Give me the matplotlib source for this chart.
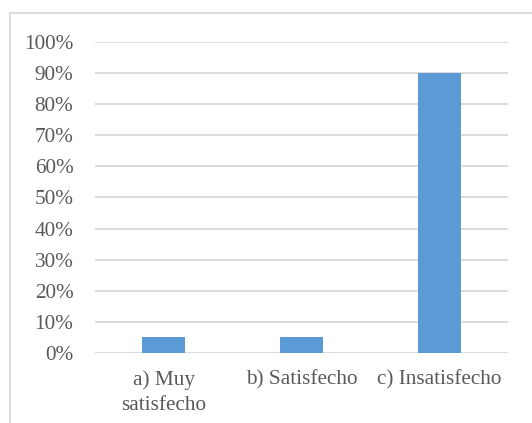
import matplotlib
matplotlib.use("Agg")
import matplotlib.pyplot as plt
from matplotlib.lines import Line2D
from matplotlib.ticker import FuncFormatter, MultipleLocator

categories = ["a) Muy\nsatisfecho", "b) Satisfecho", "c) Insatisfecho"]
values = [0.05, 0.05, 0.90]

plt.rcParams["font.family"] = ["Liberation Serif", "DejaVu Serif"]
text_color = "#595959"
grid_color = "#D9D9D9"
bar_color = "#5B9BD5"

W, H = 532, 423
fig = plt.figure(figsize=(W / 100, H / 100), dpi=100)
ax = fig.add_axes([95 / W, 1 - 353 / H, (508 - 95) / W, (353 - 42) / H])

x = range(len(categories))
ax.bar(x, values, width=0.31, color=bar_color, zorder=3)

ax.set_xlim(-0.5, len(categories) - 0.5)
ax.set_ylim(0, 1.0)
ax.yaxis.set_major_locator(MultipleLocator(0.1))
ax.yaxis.set_major_formatter(FuncFormatter(lambda v, _: f"{v * 100:.0f}%"))
ax.set_xticks(list(x))
ax.set_xticklabels(categories, linespacing=1.4)

ax.grid(axis="y", color=grid_color, linewidth=1.3, zorder=0)
for side in ("top", "right", "left", "bottom"):
    ax.spines[side].set_visible(False)
ax.tick_params(axis="both", length=0, labelsize=15.3, colors=text_color)
ax.tick_params(axis="y", pad=15.5)
ax.tick_params(axis="x", pad=12.5)

# chart area frame (left and top edges)
fig.add_artist(Line2D([9.5 / W, 9.5 / W], [0, 1 - 13 / H], transform=fig.transFigure,
                      color=grid_color, linewidth=1.3))
fig.add_artist(Line2D([9.5 / W, 1], [1 - 13 / H, 1 - 13 / H], transform=fig.transFigure,
                      color=grid_color, linewidth=1.3))

fig.savefig("out.png", dpi=100)
